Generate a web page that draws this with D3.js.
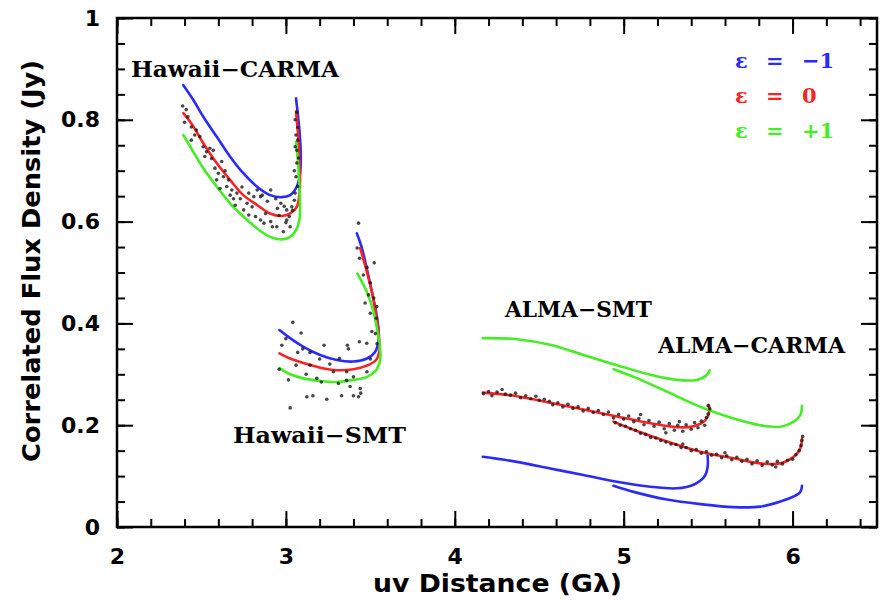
<!DOCTYPE html>
<html>
<head>
<meta charset="utf-8">
<script src="https://cdn.jsdelivr.net/npm/d3@7"></script>
<style>
	body { margin: 0; background: #fff; }
	.tick line { stroke: #000; stroke-width: 2; }
	.tick text { font-family: "DejaVu Sans", sans-serif; font-weight: bold; fill: #000; }
	.title { font-family: "DejaVu Sans", sans-serif; font-weight: bold; font-size: 25px; }
	.tag { font-family: "DejaVu Serif", serif; font-weight: bold; font-size: 22px; }
	.leg { font-family: "DejaVu Serif", serif; font-weight: bold; font-size: 21px; }
</style>
</head>
<body>
<div id="chart"></div>
<script>
// Tick labels
var xMajor = [2, 3, 4, 5, 6];
var yMajor = [0, 0.2, 0.4, 0.6, 0.8, 1];

// Hawaii-CARMA baseline: models (eps = -1, 0, +1) and data
var hcBlue = [[2.393,0.868],[2.452,0.839],[2.511,0.806],[2.590,0.767],[2.669,0.728],[2.748,0.695],[2.828,0.669],[2.906,0.652],[2.976,0.648],[3.025,0.652],[3.065,0.669],[3.084,0.695],[3.088,0.734],[3.080,0.780],[3.070,0.813],[3.060,0.842]];
var hcRed = [[2.393,0.813],[2.452,0.787],[2.511,0.754],[2.590,0.715],[2.669,0.682],[2.748,0.652],[2.828,0.633],[2.906,0.616],[2.976,0.611],[3.025,0.616],[3.065,0.629],[3.080,0.656],[3.084,0.688],[3.078,0.734],[3.070,0.780],[3.060,0.816]];
var hcGreen = [[2.393,0.770],[2.452,0.737],[2.511,0.705],[2.590,0.669],[2.669,0.636],[2.748,0.610],[2.828,0.587],[2.906,0.570],[2.976,0.565],[3.025,0.570],[3.060,0.583],[3.080,0.603],[3.084,0.629],[3.080,0.669],[3.072,0.715],[3.060,0.757]];
var hcData = [[2.389,0.827],[2.41,0.820],[2.42,0.806],[2.44,0.786],[2.47,0.780],[2.49,0.767],[2.44,0.760],[2.51,0.747],[2.53,0.737],[2.55,0.744],[2.57,0.740],[2.56,0.724],[2.62,0.718],[2.60,0.695],[2.63,0.688],[2.66,0.682],[2.65,0.669],[2.68,0.662],[2.71,0.656],[2.73,0.645],[2.69,0.645],[2.77,0.636],[2.80,0.629],[2.83,0.662],[2.85,0.649],[2.86,0.652],[2.91,0.662],[2.82,0.610],[2.85,0.603],[2.88,0.616],[2.91,0.600],[2.92,0.590],[2.95,0.626],[2.97,0.636],[2.99,0.630],[3.005,0.623],[3.005,0.603],[3.02,0.610],[3.035,0.629],[3.05,0.642],[3.055,0.656],[3.07,0.669],[3.06,0.688],[3.065,0.715],[3.055,0.747],[3.06,0.770],[3.055,0.800],[3.065,0.815],[3.075,0.725],[3.05,0.700],[3.025,0.590],[2.985,0.580],[2.946,0.590],[2.87,0.597],[2.78,0.613],[2.75,0.623],[2.67,0.652],[2.61,0.665],[2.59,0.682],[2.81,0.649],[2.78,0.656],[2.96,0.612],[3.04,0.622],[3.07,0.760],[3.065,0.740],[2.40,0.795],[2.46,0.770],[2.52,0.728],[2.58,0.705],[2.64,0.700],[2.70,0.632],[2.74,0.668],[2.89,0.640],[2.94,0.645],[3.00,0.598],[3.07,0.785]];

// Hawaii-SMT baseline
var hsBlue = [[2.962,0.387],[3.025,0.371],[3.104,0.354],[3.203,0.338],[3.302,0.328],[3.400,0.325],[3.479,0.331],[3.528,0.344],[3.548,0.364],[3.548,0.390],[3.534,0.423],[3.509,0.462],[3.479,0.508],[3.450,0.548],[3.420,0.577]];
var hsRed = [[2.962,0.341],[3.025,0.331],[3.104,0.322],[3.203,0.313],[3.302,0.308],[3.400,0.310],[3.479,0.317],[3.534,0.328],[3.554,0.348],[3.550,0.377],[3.534,0.417],[3.509,0.462],[3.479,0.502],[3.440,0.548]];
var hsGreen = [[2.962,0.312],[3.025,0.300],[3.104,0.292],[3.203,0.287],[3.302,0.285],[3.400,0.289],[3.479,0.295],[3.534,0.308],[3.558,0.328],[3.558,0.351],[3.542,0.384],[3.519,0.423],[3.479,0.462],[3.424,0.498]];
var hsData = [[3.430,0.597],[3.422,0.548],[3.436,0.528],[3.48,0.510],[3.523,0.519],[3.459,0.495],[3.50,0.480],[3.489,0.456],[3.52,0.450],[3.469,0.440],[3.538,0.433],[3.50,0.420],[3.535,0.410],[3.509,0.384],[3.53,0.380],[3.479,0.361],[3.435,0.364],[3.364,0.357],[3.37,0.350],[3.317,0.331],[3.226,0.357],[3.143,0.343],[3.10,0.350],[3.07,0.343],[2.976,0.357],[3.041,0.402],[3.090,0.381],[3.00,0.370],[3.143,0.318],[3.20,0.330],[3.26,0.320],[3.281,0.305],[3.36,0.305],[3.40,0.295],[3.183,0.292],[3.21,0.285],[3.311,0.282],[3.36,0.288],[3.380,0.276],[3.44,0.272],[3.443,0.263],[3.124,0.256],[3.16,0.258],[3.242,0.251],[3.33,0.258],[3.40,0.258],[3.43,0.256],[3.025,0.234],[2.96,0.310],[3.015,0.289],[3.48,0.305],[3.50,0.330],[3.54,0.360],[3.06,0.318],[3.12,0.300]];

// ALMA-SMT baseline
var asBlue = [[4.166,0.138],[4.368,0.128],[4.565,0.115],[4.762,0.102],[4.960,0.089],[5.158,0.079],[5.316,0.076],[5.414,0.083],[5.478,0.099],[5.497,0.118],[5.497,0.141]];
var asRed = [[4.166,0.264],[4.368,0.257],[4.565,0.244],[4.762,0.231],[4.960,0.217],[5.158,0.204],[5.316,0.196],[5.414,0.198],[5.483,0.210],[5.509,0.230],[5.503,0.240]];
var asGreen = [[4.166,0.371],[4.368,0.369],[4.565,0.358],[4.762,0.338],[4.960,0.318],[5.158,0.299],[5.316,0.289],[5.434,0.289],[5.494,0.299],[5.509,0.308]];
var asData = [[4.17,0.262],[4.20,0.266],[4.22,0.258],[4.25,0.265],[4.28,0.270],[4.30,0.261],[4.33,0.259],[4.36,0.263],[4.39,0.254],[4.42,0.258],[4.45,0.252],[4.48,0.257],[4.50,0.249],[4.53,0.251],[4.56,0.247],[4.58,0.240],[4.61,0.244],[4.64,0.236],[4.67,0.241],[4.70,0.233],[4.73,0.236],[4.76,0.228],[4.79,0.233],[4.82,0.225],[4.85,0.229],[4.88,0.221],[4.91,0.226],[4.94,0.214],[4.97,0.221],[5.00,0.212],[5.03,0.218],[5.06,0.207],[5.09,0.213],[5.12,0.201],[5.15,0.209],[5.18,0.198],[5.21,0.206],[5.24,0.193],[5.27,0.203],[5.30,0.190],[5.32,0.200],[5.35,0.188],[5.37,0.201],[5.40,0.192],[5.42,0.205],[5.44,0.195],[5.46,0.208],[5.48,0.200],[5.49,0.215],[5.50,0.222],[5.51,0.232],[5.50,0.238],[5.33,0.207],[5.25,0.185],[5.10,0.221]];

// ALMA-CARMA baseline
var acBlue = [[4.940,0.081],[5.059,0.069],[5.256,0.054],[5.454,0.045],[5.651,0.039],[5.809,0.040],[5.928,0.050],[6.007,0.060],[6.046,0.069],[6.056,0.081]];
var acRed = [[4.940,0.207],[5.059,0.191],[5.256,0.168],[5.454,0.148],[5.651,0.135],[5.809,0.125],[5.928,0.125],[6.007,0.138],[6.046,0.155],[6.056,0.174]];
var acGreen = [[4.940,0.310],[5.059,0.295],[5.256,0.266],[5.454,0.236],[5.651,0.213],[5.809,0.200],[5.928,0.197],[6.007,0.207],[6.046,0.220],[6.056,0.238]];
var acData = [[4.95,0.205],[4.98,0.200],[5.01,0.198],[5.04,0.193],[5.07,0.190],[5.10,0.184],[5.13,0.182],[5.16,0.176],[5.19,0.175],[5.22,0.170],[5.25,0.167],[5.28,0.163],[5.31,0.162],[5.34,0.156],[5.37,0.156],[5.40,0.150],[5.43,0.152],[5.46,0.145],[5.49,0.148],[5.52,0.141],[5.55,0.143],[5.58,0.136],[5.61,0.140],[5.64,0.132],[5.67,0.137],[5.70,0.129],[5.73,0.133],[5.76,0.124],[5.79,0.130],[5.82,0.121],[5.85,0.128],[5.88,0.122],[5.91,0.129],[5.94,0.124],[5.97,0.131],[6.00,0.133],[6.02,0.142],[6.04,0.150],[6.05,0.160],[6.055,0.170],[6.06,0.178],[5.35,0.163],[5.60,0.146],[5.90,0.118]];

var legendValues = ["\u22121", "0", "+1"];
var colors = ["#2a2aff", "#ff2222", "#44ee22"];

var width = 885, height = 602;
var plotL = 117, plotR = 877, plotT = 18, plotB = 527;

var x = d3.scaleLinear().domain([2, 6.5]).range([plotL, plotR]);
var y = d3.scaleLinear().domain([0, 1]).range([plotB, plotT]);

var svg = d3.select("#chart").append("svg")
	.attr("width", width)
	.attr("height", height);

svg.append("rect").attr("width", width).attr("height", height).attr("fill", "#fff");

// Minor + major ticks on all four sides (pointing inward)
var xMinor = d3.range(2, 6.51, 0.2);
var yMinor = d3.range(0, 1.001, 0.05);

function addAxis(axis, tx, ty) {
	var g = svg.append("g")
		.attr("transform", "translate(" + tx + "," + ty + ")")
		.call(axis);
	g.select(".domain").remove();
	return g;
}

addAxis(d3.axisBottom(x).tickValues(xMinor).tickSize(-8).tickFormat(""), 0, plotB);
addAxis(d3.axisTop(x).tickValues(xMinor).tickSize(-8).tickFormat(""), 0, plotT);
addAxis(d3.axisLeft(y).tickValues(yMinor).tickSize(-8).tickFormat(""), plotL, 0);
addAxis(d3.axisRight(y).tickValues(yMinor).tickSize(-8).tickFormat(""), plotR, 0);

addAxis(d3.axisBottom(x).tickValues(xMajor).tickSize(-16).tickPadding(21).tickFormat(d3.format("d")), 0, plotB)
	.selectAll("text").style("font-size", "22px");
addAxis(d3.axisTop(x).tickValues(xMajor).tickSize(-16).tickFormat(""), 0, plotT);
addAxis(d3.axisLeft(y).tickValues(yMajor).tickSize(-16).tickPadding(17).tickFormat(function(d) { return d === 0 || d === 1 ? d : d.toFixed(1); }), plotL, 0)
	.selectAll("text").style("font-size", "22px");
addAxis(d3.axisRight(y).tickValues(yMajor).tickSize(-16).tickFormat(""), plotR, 0);

// Frame
svg.append("rect")
	.attr("x", plotL).attr("y", plotT)
	.attr("width", plotR - plotL).attr("height", plotB - plotT)
	.attr("fill", "none").attr("stroke", "#000").attr("stroke-width", 2.5);

// Model curves
var line = d3.line()
	.x(function(d) { return x(d[0]); })
	.y(function(d) { return y(d[1]); })
	.curve(d3.curveCatmullRom.alpha(0.5));

var models = [
	[hcBlue, hcRed, hcGreen],
	[hsBlue, hsRed, hsGreen],
	[asBlue, asRed, asGreen],
	[acBlue, acRed, acGreen]
];
var dataSets = [hcData, hsData, asData, acData];

models.forEach(function(trio) {
	trio.forEach(function(curve, i) {
		svg.append("path")
			.attr("d", line(curve))
			.attr("fill", "none")
			.attr("stroke", colors[i])
			.attr("stroke-width", 2.6)
			.attr("stroke-linecap", "round");
	});
});

// data points
dataSets.forEach(function(set) {
	svg.append("g").selectAll("circle")
		.data(set)
		.enter().append("circle")
		.attr("cx", function(d) { return x(d[0]); })
		.attr("cy", function(d) { return y(d[1]); })
		.attr("r", 1.8)
		.attr("fill", "#1a1a1a")
		.attr("opacity", 0.8);
});

// Baseline labels
var tags = [
	{ text: "Hawaii\u2212CARMA", px: 131, py: 77, len: 208 },
	{ text: "Hawaii\u2212SMT", px: 233, py: 443, len: 173 },
	{ text: "ALMA\u2212SMT", px: 505, py: 317, len: 147 },
	{ text: "ALMA\u2212CARMA", px: 658, py: 353, len: 187 }
];
svg.selectAll(".tag").data(tags).enter().append("text")
	.attr("class", "tag")
	.attr("x", function(d) { return d.px; })
	.attr("y", function(d) { return d.py; })
	.attr("textLength", function(d) { return d.len; })
	.attr("lengthAdjust", "spacingAndGlyphs")
	.text(function(d) { return d.text; });

// Legend
var leg = svg.append("g").selectAll("g").data(legendValues).enter().append("g")
	.attr("transform", function(d, i) { return "translate(0," + (68 + i * 35) + ")"; })
	.attr("fill", function(d, i) { return colors[i]; });
leg.append("text").attr("class", "leg").attr("x", 735).text("\u03b5");
leg.append("text").attr("class", "leg").attr("x", 766).text("=");
leg.append("text").attr("class", "leg").attr("x", 802).text(function(d) { return d; });

// Axis titles
svg.append("text")
	.attr("class", "title")
	.attr("x", 373)
	.attr("y", 592)
	.attr("textLength", 249)
	.attr("lengthAdjust", "spacingAndGlyphs")
	.text("uv Distance (G\u03bb)");

svg.append("text")
	.attr("class", "title")
	.attr("transform", "translate(40,462) rotate(-90)")
	.attr("textLength", 402)
	.attr("lengthAdjust", "spacingAndGlyphs")
	.text("Correlated Flux Density (Jy)");
</script>
</body>
</html>
